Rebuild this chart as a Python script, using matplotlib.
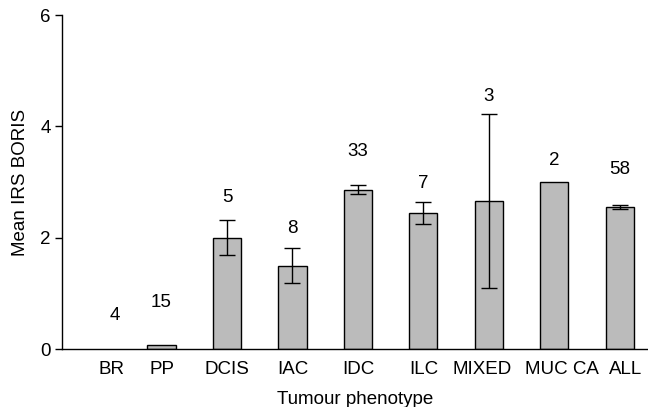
import numpy as np
import matplotlib
matplotlib.use("Agg")
import matplotlib.pyplot as plt

plt.rcParams['font.family'] = ['Liberation Sans', 'DejaVu Sans']

# data
phenotypes = ['BR', 'PP', 'DCIS', 'IAC', 'IDC', 'ILC', 'MIXED', 'MUC CA', 'ALL']
mean_irs = [0.0, 0.07, 2.0, 1.5, 2.86, 2.44, 2.66, 3.0, 2.55]
sem = [0.0, 0.0, 0.32, 0.31, 0.08, 0.2, 1.56, 0.0, 0.03]
n_cases = [4, 15, 5, 8, 33, 7, 3, 2, 58]

# where the case counts sit above each bar
count_y = [0.61, 0.83, 2.73, 2.17, 3.54, 2.98, 4.53, 3.38, 3.22]
count_shift = [0.28, 0, 0, 0, 0, 0, 0, 0, 0]
# tick labels are not exactly centred under the bars in the original
label_shift = [0.24, 0, 0, 0, 0, 0, -0.1, 0.11, 0.09]

fs = 13.5
x = np.arange(len(phenotypes))

fig = plt.figure(figsize=(6.48, 4.07), dpi=100)
ax = fig.add_axes([62/648, 1-349/407, 1-62/648, (349-15)/407])

vals = np.array(mean_irs)
nonzero = vals > 0
ax.bar(x[nonzero], vals[nonzero], 0.43, color='#bbbbbb', edgecolor='black', linewidth=1.0)
has_err = np.array(sem) > 0
ax.errorbar(x[has_err], vals[has_err], yerr=np.array(sem)[has_err],
            fmt='none', ecolor='black', elinewidth=1.0, capsize=5.5, capthick=1.0)

for i in range(len(x)):
    ax.text(x[i] + count_shift[i], count_y[i], str(n_cases[i]),
            ha='center', va='center', fontsize=fs)

ax.set_xlim(-0.52, 8.43)
ax.set_ylim(0, 6)
ax.set_yticks([0, 2, 4, 6])
ax.set_xticks(x + np.array(label_shift))
ax.set_xticklabels(phenotypes)
ax.tick_params(axis='x', length=0, labelsize=fs, pad=9)
ax.tick_params(axis='y', length=5, width=1, labelsize=fs, direction='out', pad=3)

ax.spines['top'].set_visible(False)
ax.spines['right'].set_visible(False)
ax.spines['left'].set_linewidth(1)
ax.spines['bottom'].set_linewidth(1)

ax.set_xlabel('Tumour phenotype', fontsize=fs, labelpad=9)
ax.set_ylabel('Mean IRS BORIS', fontsize=fs, labelpad=8)

fig.savefig('out.png', dpi=100)
